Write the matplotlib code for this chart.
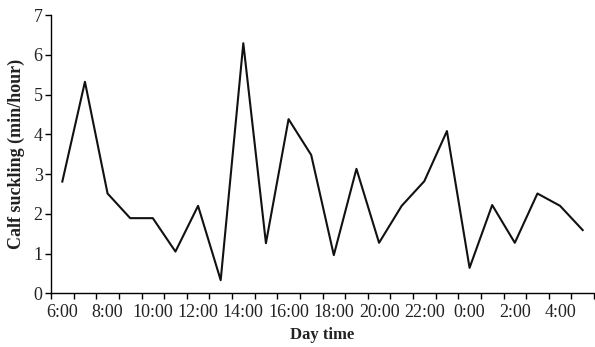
import matplotlib
matplotlib.use("Agg")
import matplotlib.pyplot as plt
import numpy as np

plt.rcParams["font.family"] = ["Liberation Serif", "DejaVu Serif"]

# hourly categories from 6:00 through 5:00
hours = [f"{(6 + i) % 24}:00" for i in range(24)]
suckling = [2.81, 5.32, 2.51, 1.89, 1.89, 1.05, 2.20, 0.33, 6.29, 1.26, 4.38, 3.48,
            0.96, 3.13, 1.27, 2.20, 2.82, 4.08, 0.64, 2.22, 1.27, 2.51, 2.20, 1.59]
y_ticks = [0, 1, 2, 3, 4, 5, 6, 7]

fig = plt.figure(figsize=(5.95, 3.47), dpi=100)
ax = fig.add_axes([51 / 595, (347 - 293.3) / 347, 543 / 595, (293.3 - 15) / 347])

xs = np.arange(len(hours))
ax.plot(xs, suckling, color="#111111", lw=1.5)

ax.set_xlim(-0.5, len(hours) - 0.5)
ax.set_ylim(0, 7)
ax.set_yticks(y_ticks)

# Excel-style category axis: tick marks between categories, labels every 2nd one
ax.set_xticks(np.arange(-0.5, len(hours), 1.0))
ax.set_xticklabels([])
ax.set_xticks(xs[::2], minor=True)
ax.set_xticklabels(hours[::2], minor=True)
ax.tick_params(axis="x", which="major", length=4, width=1.0, direction="out")
ax.tick_params(axis="x", which="minor", length=0, pad=8, labelsize=13, labelcolor="#222222")
ax.tick_params(axis="y", length=4, width=1.0, direction="out", labelsize=13, pad=2,
               labelcolor="#222222")

for s in ("top", "right"):
    ax.spines[s].set_visible(False)
for s in ("left", "bottom"):
    ax.spines[s].set_linewidth(1.0)

ax.set_xlabel("Day time", fontsize=12, fontweight="bold", labelpad=4, color="#222222")
ax.set_ylabel("Calf suckling (min/hour)", fontsize=13, fontweight="bold", labelpad=6,
              color="#222222")

fig.savefig("out.png", dpi=100)
